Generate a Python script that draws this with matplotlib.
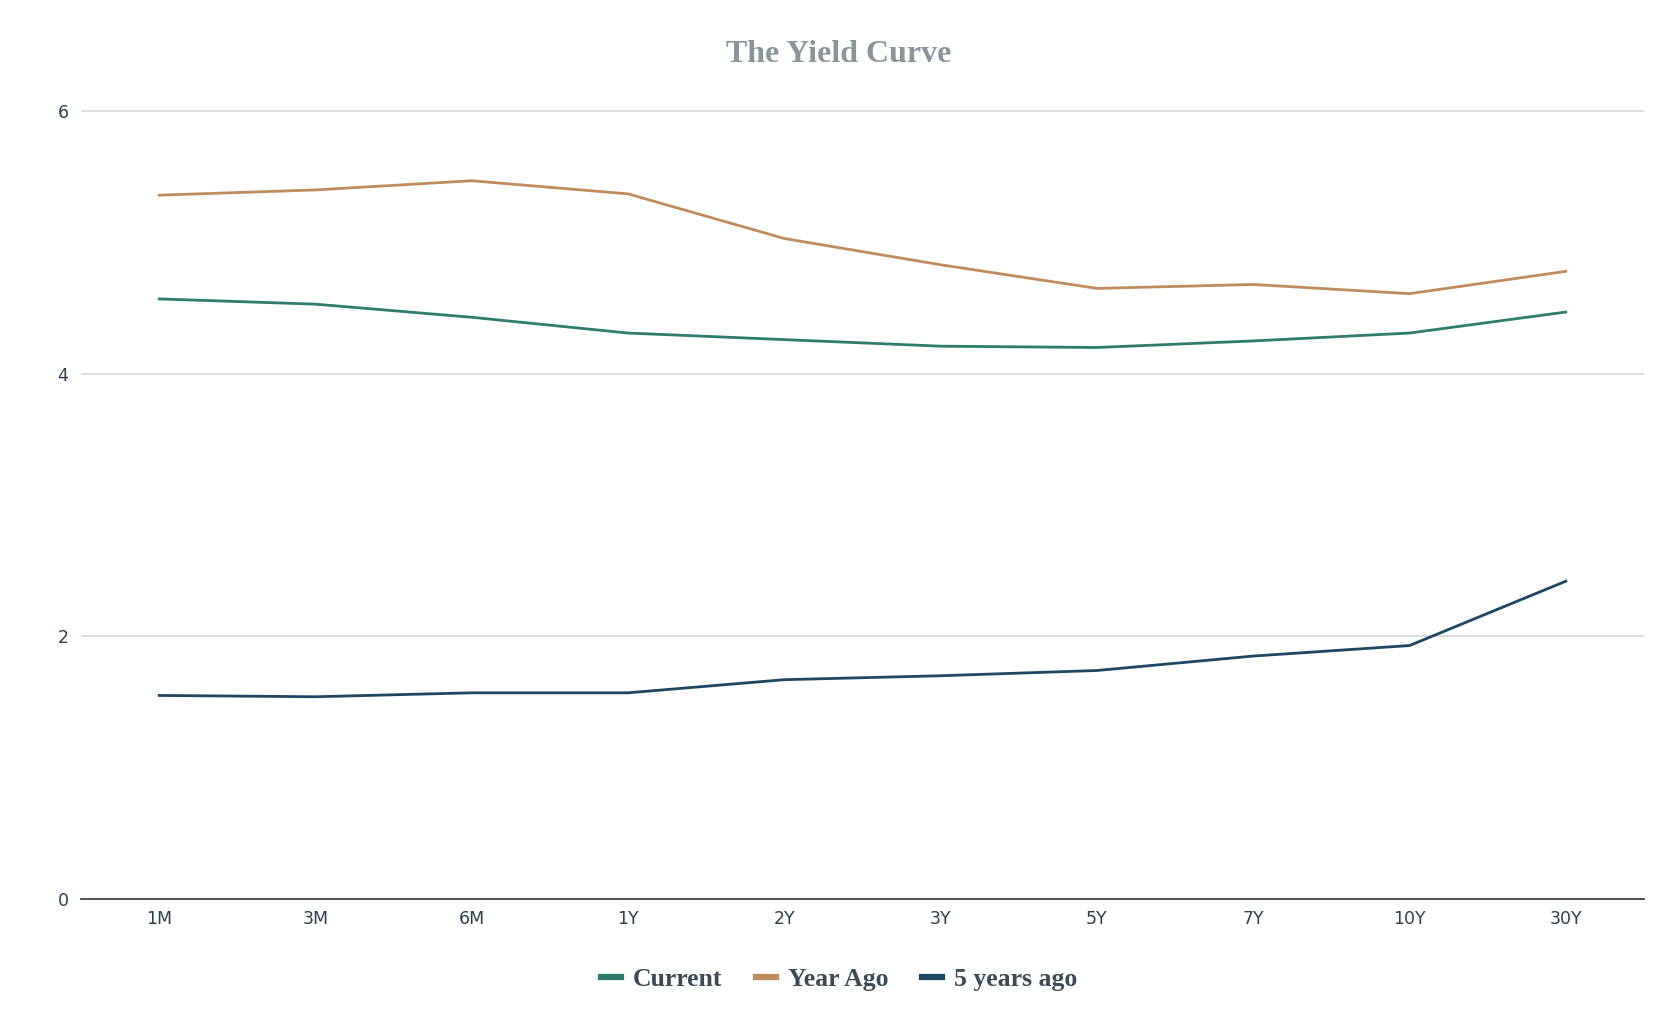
import numpy as np
import matplotlib.pyplot as plt

maturities = ["1M", "3M", "6M", "1Y", "2Y", "3Y", "5Y", "7Y", "10Y", "30Y"]
current = [4.57, 4.53, 4.43, 4.31, 4.26, 4.21, 4.20, 4.25, 4.31, 4.47]
year_ago = [5.36, 5.40, 5.47, 5.37, 5.03, 4.83, 4.65, 4.68, 4.61, 4.78]
five_years_ago = [1.55, 1.54, 1.57, 1.57, 1.67, 1.70, 1.74, 1.85, 1.93, 2.42]

series = [
    ("Current", current, "#2e7d6c"),
    ("Year Ago", year_ago, "#c08b5c"),
    ("5 years ago", five_years_ago, "#1d4760"),
]

fig = plt.figure(figsize=(16.78, 10.34), dpi=100)
ax = fig.add_axes([0.0483, 0.1306, 0.9314, 0.80])

x = np.arange(len(maturities))
for name, vals, color in series:
    ax.plot(x, vals, color=color, linewidth=2.0, label=name, solid_joinstyle="round")

ax.set_xlim(-0.5, len(maturities) - 0.5)
ax.set_ylim(0, 6.3)
ax.set_yticks([0, 2, 4, 6])
ax.set_xticks(x)
ax.set_xticklabels(maturities)

tick_color = "#2a3f4f"
ax.tick_params(axis="both", length=0, labelsize=12.5, colors=tick_color)
ax.tick_params(axis="x", pad=8)
ax.tick_params(axis="y", pad=9)
for lbl in ax.get_xticklabels() + ax.get_yticklabels():
    lbl.set_fontfamily("DejaVu Sans")

ax.grid(axis="y", color="#d9d9d9", linewidth=1.3)
ax.set_axisbelow(True)
for side in ["top", "right", "left"]:
    ax.spines[side].set_visible(False)
ax.spines["bottom"].set_color("#444444")
ax.spines["bottom"].set_linewidth(1.3)
ax.spines["bottom"].set_zorder(1)

fig.text(0.5, 0.947, "The Yield Curve", ha="center", va="center",
         fontsize=23, fontweight="bold", family="Liberation Serif", color="#8a9599")

leg = fig.legend(loc="center", bbox_to_anchor=(0.5, 0.053), ncol=3, frameon=False,
                 handlelength=0.8, handletextpad=0.45, columnspacing=1.3,
                 prop={"family": "Liberation Serif", "weight": "bold", "size": 18.5})
for h in leg.get_lines():
    h.set_linewidth(4.5)
for t in leg.get_texts():
    t.set_color("#3b4a55")

fig.savefig("out.png", dpi=100, facecolor="white")
